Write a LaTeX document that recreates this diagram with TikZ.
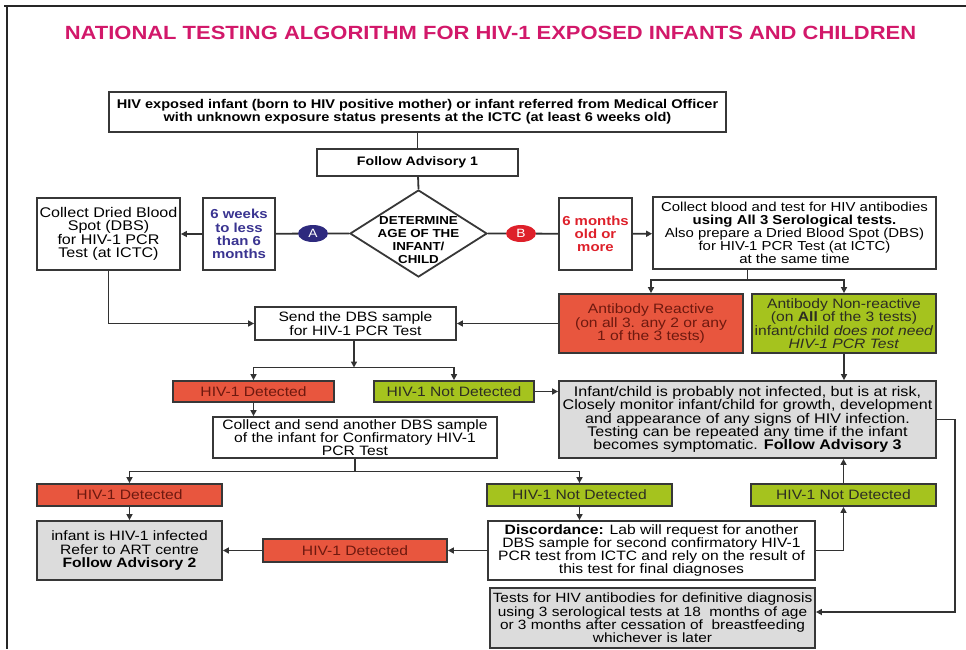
\documentclass[tikz,border=0pt]{standalone}
\usepackage{fontspec}
\setmainfont{Liberation Sans}[FakeStretch=1.15]
\usetikzlibrary{shapes.geometric,arrows.meta}

\definecolor{titlemag}{RGB}{210,24,106}
\definecolor{boxline}{RGB}{55,55,55}
\definecolor{linecol}{RGB}{50,50,50}
\definecolor{redfill}{RGB}{232,86,62}
\definecolor{redtext}{RGB}{110,25,15}
\definecolor{greenfill}{RGB}{165,195,30}
\definecolor{greentext}{RGB}{45,45,35}
\definecolor{greyfill}{RGB}{220,220,220}
\definecolor{navy}{RGB}{46,42,126}
\definecolor{ageblue}{RGB}{58,52,145}
\definecolor{agered}{RGB}{222,32,42}

\newcommand\bodyfont{\fontsize{13.6}{13.3}\selectfont}

\begin{document}
\begin{tikzpicture}[x=1pt,y=-1pt,
    box/.style={draw=boxline, line width=1.8pt, fill=white, align=center, inner sep=0pt, font=\bodyfont},
    redbox/.style={box, fill=redfill, text=redtext},
    greenbox/.style={box, fill=greenfill, text=greentext},
    greybox/.style={box, fill=greyfill},
    agebox/.style={box, font=\fontsize{13}{13.3}\selectfont\bfseries},
    tag/.style={ellipse, inner sep=0pt, minimum width=30, minimum height=17, text=white, font=\fontsize{12}{12}\selectfont},
    link/.style={draw=linecol, line width=1.8pt},
    arr/.style={link, -{Triangle[length=6pt,width=6pt]}}]

    \useasboundingbox (0,0) rectangle (966,649);
    \draw[line width=2pt, black!85] (4,6) -- (966,6);
    \draw[line width=2pt, black!85] (7,6) -- (7,649);

    \node (title) at (490.5,33)[text=titlemag, font=\fontsize{19.1}{20}\selectfont\bfseries]
        {NATIONAL TESTING ALGORITHM FOR HIV-1 EXPOSED INFANTS AND CHILDREN};

    % top of the chart
    \node (top) at (417.5,112)[box, font=\fontsize{12.65}{13.3}\selectfont\bfseries, minimum width=617, minimum height=40]
        {HIV exposed infant (born to HIV positive mother) or infant referred from Medical Officer\\
         with unknown exposure status presents at the ICTC (at least 6 weeks old)};
    \node (adv1) at (417.5,162.5)[box, font=\fontsize{12.3}{13.3}\selectfont\bfseries, minimum width=201, minimum height=27]{Follow Advisory 1};
    \node (age) at (418.5,233.5)[diamond, draw=boxline, line width=1.8pt, fill=white, inner sep=0pt,
        minimum width=137, minimum height=87]{};
    \node (agetext) at (418.5,240)[align=center, font=\fontsize{11.6}{12.8}\selectfont\bfseries]{DETERMINE\\AGE OF THE\\INFANT/\\CHILD};

    \node (tagA) at (313,233.5)[tag, fill=navy]{A};
    \node (tagB) at (521,233.5)[tag, fill=agered]{B};
    \node (weeks) at (239,234)[agebox, text=ageblue, minimum width=72, minimum height=72]{6 weeks\\to less\\than 6\\months};
    \node (months) at (595.5,234)[agebox, text=agered, minimum width=73, minimum height=72]{6 months\\old or\\more};
    \node (dbsL) at (108.5,234)[box, font=\fontsize{14}{13.3}\selectfont, minimum width=143, minimum height=72]
        {Collect Dried Blood\\Spot (DBS)\\for HIV-1 PCR\\Test (at ICTC)};
    \node (blood) at (794.5,233)[box, font=\fontsize{13}{13.1}\selectfont, minimum width=283, minimum height=72]
        {Collect blood and test for HIV antibodies\\\textbf{using All 3 Serological tests.}\\
         Also prepare a Dried Blood Spot (DBS)\\for HIV-1 PCR Test (at ICTC)\\at the same time};

    % antibody results
    \node (react) at (651,323.5)[redbox, minimum width=184, minimum height=59]
        {Antibody Reactive\\(on all 3. any 2 or any\\1 of the 3 tests)};
    \node (nonreact) at (844,323.5)[greenbox, minimum width=184, minimum height=59]
        {Antibody Non-reactive\\(on \textbf{All} of the 3 tests)\\infant/child \textit{does not need}\\\textit{HIV-1 PCR Test}};
    \node (send) at (355.5,323.5)[box, minimum width=201, minimum height=33]{Send the DBS sample\\for HIV-1 PCR Test};

    % first PCR
    \node (det1) at (253.5,391.5)[redbox, minimum width=161, minimum height=21]{HIV-1 Detected};
    \node (nd1) at (454,391.5)[greenbox, minimum width=160, minimum height=21]{HIV-1 Not Detected};
    \node (risk) at (747.5,419.5)[greybox, font=\fontsize{14}{13.3}\selectfont, minimum width=377, minimum height=77]
        {Infant/child is probably not infected, but is at risk,\\
         Closely monitor infant/child for growth, development\\
         and appearance of any signs of HIV infection.\\
         Testing can be repeated any time if the infant\\
         becomes symptomatic. \textbf{Follow Advisory 3}};
    \node (coll2) at (355,437.5)[box, minimum width=284, minimum height=41]
        {Collect and send another DBS sample\\of the infant for Confirmatory HIV-1\\PCR Test};

    % confirmatory PCR
    \node (det2) at (129.5,495)[redbox, minimum width=185, minimum height=22]{HIV-1 Detected};
    \node (nd2) at (579.5,495)[greenbox, minimum width=185, minimum height=22]{HIV-1 Not Detected};
    \node (nd3) at (843.5,495)[greenbox, minimum width=185, minimum height=22]{HIV-1 Not Detected};
    \node (inf) at (129.5,550.5)[greybox, minimum width=185, minimum height=59]
        {infant is HIV-1 infected\\Refer to ART centre\\\textbf{Follow Advisory 2}};
    \node (det3) at (355,550.5)[redbox, minimum width=184, minimum height=23]{HIV-1 Detected};
    \node (disc) at (651.5,550.5)[box, minimum width=327, minimum height=59]
        {\textbf{Discordance:} Lab will request for another\\DBS sample for second confirmatory HIV-1\\
         PCR test from ICTC and rely on the result of\\this test for final diagnoses};
    \node (final) at (652.5,618)[greybox, font=\fontsize{13.4}{13.3}\selectfont, minimum width=325, minimum height=60]
        {Tests for HIV antibodies for definitive diagnosis\\using 3 serological tests at 18~ months of age\\
         or 3 months after cessation of~ breastfeeding\\whichever is later};

    \coordinate (split1) at (747.5,280);
    \coordinate (split2) at (354,367.5);
    \coordinate (split3) at (355,471.5);
    \coordinate (rturn) at (955,612);

    % connectors
    \draw[link] (top) -- (adv1);
    \draw[link] (adv1) -- (age.north);
    \draw[link] (age.west) -- (tagA) -- (weeks);
    \draw[arr] (weeks) -- (dbsL);
    \draw[link] (age.east) -- (tagB) -- (months);
    \draw[arr] (months) -- (blood);
    \draw[link] (split1 |- blood.south) -- (split1);
    \draw[arr] (split1) -| (react.north);
    \draw[arr] (split1) -| (nonreact.north);
    \draw[arr] (dbsL.south) |- (send.west);
    \draw[arr] (react.west) -- (send.east);
    \draw[arr] (send.south -| split2) -- (split2);
    \draw[arr] (split2) -| (det1.north);
    \draw[arr] (split2) -| (nd1.north);
    \draw[arr] (nd1.east) -- (nd1.east -| risk.west);
    \draw[arr] (nonreact.south) -- (nonreact.south |- risk.north);
    \draw[arr] (det1.south) -- (det1.south |- coll2.north);
    \draw[link] (coll2.south) -- (split3);
    \draw[arr] (split3) -| (det2.north);
    \draw[arr] (split3) -| (nd2.north);
    \draw[arr] (det2) -- (inf);
    \draw[arr] (nd2.south) -- (nd2.south |- disc.north);
    \draw[arr] (disc) -- (det3);
    \draw[arr] (det3) -- (inf);
    \draw[arr] (disc.east) -| (nd3.south);
    \draw[arr] (nd3.north) -- (nd3.north |- risk.south);
    \draw[arr] (risk.east) -| (rturn) -- (rturn -| final.east);
\end{tikzpicture}
\end{document}
